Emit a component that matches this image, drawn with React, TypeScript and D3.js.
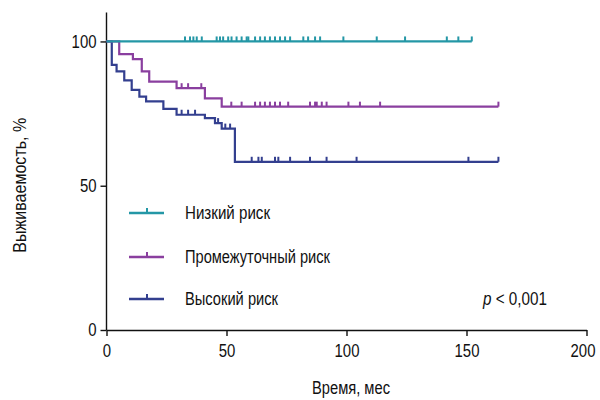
import React, { useEffect, useRef } from 'react';
import * as d3 from 'd3';

// step curves: [time, survival %]
const lowSteps: [number, number][] = [[0, 100]];
const midSteps: [number, number][] = [
  [0, 100], [5.3, 95.6], [11, 93.9], [14.7, 89.6], [17.8, 86.1],
  [29.2, 83.8], [41, 80.3], [48, 77.4]
];
const highSteps: [number, number][] = [
  [0, 100], [2.2, 91.9], [4.2, 89.6], [7.4, 86.5], [10.5, 83.2], [13.7, 80.9],
  [16.5, 79.2], [23.7, 76.6], [29.2, 74.6], [41, 73.4], [45.2, 71.7], [48, 69.8],
  [53.5, 58.3]
];
const lowEnd = 152.2;
const midEnd = 163.3;
const highEnd = 163.3;

// censoring marks (months)
const lowCensor = [
  32.7, 34.8, 36.2, 37.6, 39.7, 45.9, 47.3, 48.6, 50.7, 52.1, 54.2, 56.3, 58.4,
  59.1, 61.9, 64, 66, 68.1, 70.2, 72.3, 74.4, 76.5, 82, 84, 86.9, 89, 98.7,
  112.6, 124.4, 141.8, 146.6, 152.2
];
const midCensor = [
  31.3, 34, 39.5, 52, 56.3, 61.9, 64, 66, 68.1, 70.2, 72.3, 75.7, 84.8, 86.9,
  87.6, 89.7, 91.7, 100.8, 105.6, 114, 163.3
];
const highCensor = [
  31.3, 34, 36.9, 46.5, 49.5, 51.5, 60.5, 63.3, 64.7, 70.2, 71.6, 76.5, 84.8,
  91.7, 104.2, 150.8, 163.3
];

const xTicks = [0, 50, 100, 150, 200];
const yTicks = [0, 50, 100];
const groupNames = ['Низкий риск', 'Промежуточный риск', 'Высокий риск'];
const colors = ['#2497a6', '#8a3f9f', '#333f8f'];

const font = '"Liberation Sans", Arial, sans-serif';

export default function App() {
  const ref = useRef<SVGSVGElement>(null);

  useEffect(() => {
    const svg = d3.select(ref.current);
    svg.selectAll('*').remove();

    const x = d3.scaleLinear().domain([0, 200]).range([106.5, 586.5]);
    const y = d3.scaleLinear().domain([0, 110]).range([330, 12.6]);

    const groups = [
      { steps: lowSteps, end: lowEnd, censor: lowCensor },
      { steps: midSteps, end: midEnd, censor: midCensor },
      { steps: highSteps, end: highEnd, censor: highCensor }
    ];

    const line = d3.line<[number, number]>()
      .x(d => x(d[0]))
      .y(d => y(d[1]))
      .curve(d3.curveStepAfter);

    const valueAt = (steps: [number, number][], t: number) => {
      let v = steps[0][1];
      steps.forEach(s => { if (s[0] <= t) v = s[1]; });
      return v;
    };

    // narrow text helper: condensed look via textLength
    const label = (g: any, txt: string, len: number) =>
      g.append('text')
        .style('font-family', font).style('font-size', '18px')
        .attr('fill', '#111')
        .attr('textLength', len).attr('lengthAdjust', 'spacingAndGlyphs')
        .text(txt);

    // axes
    const xAxis = svg.append('g')
      .attr('transform', `translate(0,${y(0)})`)
      .call(d3.axisBottom(x).tickValues(xTicks).tickSize(6).tickPadding(8).tickSizeOuter(0));
    const yAxis = svg.append('g')
      .attr('transform', `translate(${x(0)},0)`)
      .call(d3.axisLeft(y).tickValues(yTicks).tickSize(6).tickPadding(4).tickSizeOuter(0));
    [xAxis, yAxis].forEach(a => {
      a.select('.domain').attr('stroke', '#111').attr('stroke-width', 1.4);
      a.selectAll('.tick line').attr('stroke', '#111').attr('stroke-width', 1.4);
      a.selectAll('.tick text')
        .attr('fill', '#111')
        .style('font-family', font)
        .style('font-size', '18px')
        .attr('textLength', (d: any) => String(d).length * 8.3)
        .attr('lengthAdjust', 'spacingAndGlyphs');
    });
    // keep the last label inside the frame
    xAxis.selectAll('.tick text').filter((d: any) => d === 200).attr('dx', -4);
    yAxis.select('.domain').attr('d', `M0,${y(110)}V${y(0)}`);

    // curves, low last so it sits on top at 100
    [2, 1, 0].forEach(i => {
      const g = groups[i];
      const pts: [number, number][] = [...g.steps, [g.end, g.steps[g.steps.length - 1][1]]];
      svg.append('path')
        .attr('d', line(pts))
        .attr('fill', 'none')
        .attr('stroke', colors[i])
        .attr('stroke-width', 2.2);
      svg.append('g')
        .selectAll('line')
        .data(g.censor)
        .enter().append('line')
        .attr('x1', d => x(d)).attr('x2', d => x(d))
        .attr('y1', d => y(valueAt(g.steps, d)))
        .attr('y2', d => y(valueAt(g.steps, d)) - 5)
        .attr('stroke', colors[i])
        .attr('stroke-width', 2);
    });

    // legend
    const legendY = [213, 257, 299];
    const legendLen = [85, 145, 93];
    groupNames.forEach((name, i) => {
      const lg = svg.append('g').attr('transform', `translate(0,${legendY[i]})`);
      lg.append('line').attr('x1', 129).attr('x2', 164).attr('y1', 0).attr('y2', 0)
        .attr('stroke', colors[i]).attr('stroke-width', 2.5);
      lg.append('line').attr('x1', 147).attr('x2', 147).attr('y1', 0).attr('y2', -5)
        .attr('stroke', colors[i]).attr('stroke-width', 2);
      label(lg, name, legendLen[i]).attr('x', 185).attr('y', 6);
    });

    const pText = svg.append('text').attr('x', 483).attr('y', 305)
      .style('font-family', font).style('font-size', '18px').attr('fill', '#111')
      .attr('textLength', 64).attr('lengthAdjust', 'spacingAndGlyphs');
    pText.append('tspan').attr('font-style', 'italic').text('p');
    pText.append('tspan').text(' < 0,001');

    label(svg, 'Время, мес', 78).attr('x', 312).attr('y', 394);
    label(svg, 'Выживаемость, %', 135)
      .attr('transform', `translate(26,${y(50) + 67}) rotate(-90)`);
  }, []);

  return (
    <svg ref={ref} width={600} height={400}
      style={{ position: 'absolute', left: 0, top: 0, background: '#fff' }} />
  );
}
